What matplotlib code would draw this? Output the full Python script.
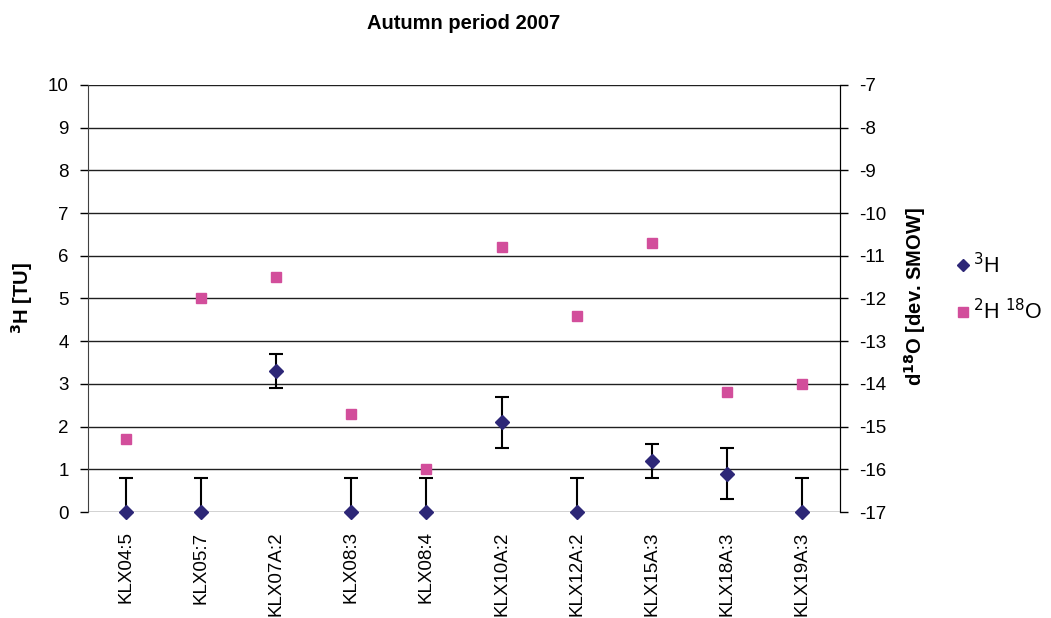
import numpy as np
import matplotlib.pyplot as plt
from matplotlib.lines import Line2D

plt.rcParams['font.family'] = ['Liberation Sans', 'DejaVu Sans']
plt.rcParams['axes.unicode_minus'] = False

samples = ['KLX04:5', 'KLX05:7', 'KLX07A:2', 'KLX08:3', 'KLX08:4',
           'KLX10A:2', 'KLX12A:2', 'KLX15A:3', 'KLX18A:3', 'KLX19A:3']
tritium = [0, 0, 3.3, 0, 0, 2.1, 0, 1.2, 0.9, 0]
tritium_err = [0.8, 0.8, 0.4, 0.8, 0.8, 0.6, 0.8, 0.4, 0.6, 0.8]
d18o = [-15.3, -12.0, -11.5, -14.7, -16.0, -10.8, -12.4, -10.7, -14.2, -14.0]

navy = '#2D2777'
pink = '#D24E9B'

fig = plt.figure(figsize=(10.51, 6.18), dpi=100)
ax = fig.add_axes([0.0837, 0.1715, 0.7155, 0.691])
x = np.arange(len(samples))

ax.set_xlim(-0.5, len(samples) - 0.5)
ax.set_ylim(0, 10)
ax.set_yticks(range(0, 11))
ax.grid(axis='y', color='#202020', lw=1.0)
ax.set_axisbelow(True)

# error bars get clipped at zero, markers stay whole
ax.errorbar(x, tritium, yerr=tritium_err, fmt='none', ecolor='black',
            elinewidth=1.5, capsize=5, capthick=1.5, zorder=3)
ax.plot(x, tritium, 'D', color=navy, markersize=7, clip_on=False, zorder=4)

ax.set_xticks(x)
ax.set_xticklabels(samples, rotation=90, fontsize=13.5, va='top')
ax.tick_params(axis='x', length=0, pad=14)
ax.tick_params(axis='y', direction='out', length=6, width=1, labelsize=13.5, pad=8)

for side in ['top', 'bottom']:
    ax.spines[side].set_visible(False)
ax.spines['left'].set_color('#404040')

ax2 = ax.twinx()
ax2.set_ylim(-17, -7)
ax2.set_yticks(range(-17, -6))
ax2.plot(x, d18o, 's', color=pink, markersize=7.5, zorder=4)
ax2.tick_params(axis='y', direction='out', length=6, width=1, labelsize=13.5, pad=8)
for side in ['top', 'bottom', 'left']:
    ax2.spines[side].set_visible(False)

# axis titles placed by hand, centred on the plot height
fig.text(0.021, 0.518, '$^{\\mathbf{3}}$H [TU]', rotation=90, ha='center', va='center',
         fontsize=14.5, fontweight='bold')
fig.text(0.871, 0.52, 'd$^{\\mathbf{18}}$O [dev. SMOW]', rotation=90, ha='center',
         va='center', fontsize=14.5, fontweight='bold')

ax.set_title('Autumn period 2007', fontsize=14.5, fontweight='bold', pad=40)

handles = [
    Line2D([], [], ls='none', marker='D', color=navy, markersize=6),
    Line2D([], [], ls='none', marker='s', color=pink, markersize=7),
]
fig.legend(handles, ['$^{3}$H', '$^{2}$H $^{18}$O'], loc='center left',
           bbox_to_anchor=(0.908, 0.533), frameon=False, fontsize=15.5,
           handletextpad=0.05, labelspacing=1.0, handlelength=0.8,
           borderaxespad=0, borderpad=0)

fig.savefig('out.png', dpi=100)
